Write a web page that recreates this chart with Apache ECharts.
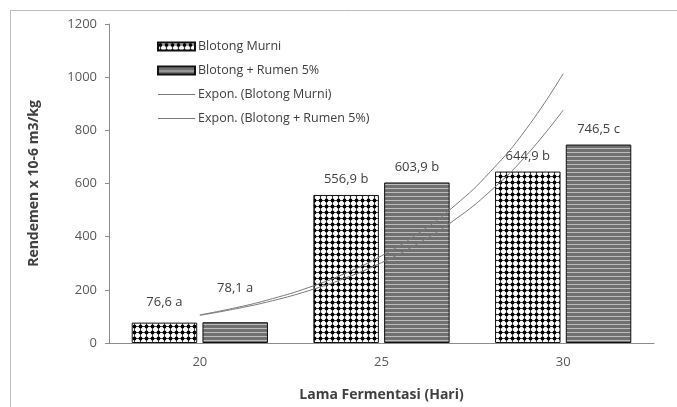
<!DOCTYPE html>
<html><head><meta charset="utf-8">
<script src="https://cdn.jsdelivr.net/npm/echarts@6/dist/echarts.min.js"></script>
<style>html,body{margin:0;padding:0;background:#fff}#c{width:677px;height:407px}</style>
</head><body><div id="c"></div>
<script>
// ---- data ----
const categories = ['20', '25', '30'];
const murni = [76.6, 556.9, 644.9];
const rumen = [78.1, 603.9, 746.5];
const murniLabels = ['76,6 a', '556,9 b', '644,9 b'];
const rumenLabels = ['78,1 a', '603,9 b', '746,5 c'];
const trendDays = [20, 21, 22, 23, 24, 25, 26, 27, 28, 29, 30];
const trendMurni = [104, 129, 159, 197, 244, 302, 374, 462, 572, 708, 876];
const trendRumen = [106, 133, 167, 209, 262, 328, 411, 515, 645, 808, 1013];
const yTicks = [0, 200, 400, 600, 800, 1000, 1200];

// ---- patterns ----
function dotPattern() {
  const c = document.createElement('canvas'); c.width = 6; c.height = 6;
  const g = c.getContext('2d');
  g.fillStyle = '#ffffff'; g.fillRect(0, 0, 6, 6);
  g.fillStyle = '#444444'; g.fillRect(0, 2, 6, 1); g.fillRect(2, 0, 1, 6);
  g.fillStyle = '#000000'; g.beginPath(); g.arc(2.5, 2.5, 1.9, 0, Math.PI * 2); g.fill();
  return c;
}
function stripePattern() {
  const c = document.createElement('canvas'); c.width = 4; c.height = 4;
  const g = c.getContext('2d');
  g.fillStyle = '#707070'; g.fillRect(0, 0, 4, 4);
  g.fillStyle = '#bdbdbd'; g.fillRect(0, 0, 4, 1);
  return c;
}
const dotFill = { image: dotPattern(), repeat: 'repeat' };
const stripeFill = { image: stripePattern(), repeat: 'repeat' };

const labelOffsets = { murni: [[0, -5], [0, 0], [0, 0]], rumen: [[0, -18], [0, 0], [0, 0]] };

function barData(vals, labels, offs) {
  return vals.map((v, i) => ({ value: v, label: { formatter: labels[i], offset: offs[i] } }));
}

const chart = echarts.init(document.getElementById('c'), null, { renderer: 'canvas' });
const font = '"Open Sans", "DejaVu Sans", sans-serif';
chart.setOption({
  animation: false,
  textStyle: { fontFamily: font },
  graphic: [{ type: 'rect', shape: { x: 10.5, y: 10.5, width: 800, height: 600 }, style: { fill: 'none', stroke: '#bdbdbd', lineWidth: 1 }, z: -1 }],
  grid: { left: 109, right: 23, top: 24, bottom: 63 },
  legend: {
    orient: 'vertical', left: 157, top: 40, padding: 0, itemGap: 11, itemWidth: 37, itemHeight: 8,
    textStyle: { color: '#404040', fontSize: 12.5, fontFamily: font, padding: [0, 0, 0, -2] },
    data: [
      { name: 'Blotong Murni', icon: 'rect' },
      { name: 'Blotong + Rumen 5%', icon: 'rect' },
      { name: 'Expon. (Blotong Murni)', icon: 'path://M0,0L36,0L36,1L0,1Z' },
      { name: 'Expon. (Blotong + Rumen 5%)', icon: 'path://M0,0L36,0L36,1L0,1Z' }
    ]
  },
  xAxis: [
    {
      type: 'category', data: categories,
      axisLine: { lineStyle: { color: '#8c8c8c' } }, axisTick: { show: false },
      axisLabel: { color: '#595959', fontSize: 13, margin: 13 },
      name: 'Lama Fermentasi (Hari)', nameLocation: 'middle', nameGap: 45,
      nameTextStyle: { fontSize: 14, fontWeight: 'bold', color: '#404040' }
    },
    { type: 'value', min: 17.5, max: 32.5, show: false, position: 'bottom' }
  ],
  yAxis: {
    type: 'value', min: yTicks[0], max: yTicks[yTicks.length - 1], interval: 200,
    axisLine: { show: true, lineStyle: { color: '#8c8c8c' } },
    axisTick: { show: true, length: 4, lineStyle: { color: '#8c8c8c' } },
    splitLine: { show: false },
    axisLabel: { color: '#595959', fontSize: 13, margin: 12, formatter: v => String(v) },
    name: 'Rendemen x 10-6 m3/kg', nameLocation: 'middle', nameGap: 68,
    nameTextStyle: { fontSize: 14, fontWeight: 'bold', color: '#404040' }
  },
  series: [
    {
      name: 'Blotong Murni', type: 'bar', barCategoryGap: '25%', barGap: '8%',
      itemStyle: { color: dotFill, borderColor: '#111', borderWidth: 1 },
      label: { show: true, position: 'top', distance: 9, color: '#404040', fontSize: 13 },
      data: barData(murni, murniLabels, labelOffsets.murni)
    },
    {
      name: 'Blotong + Rumen 5%', type: 'bar',
      itemStyle: { color: stripeFill, borderColor: '#111', borderWidth: 1 },
      label: { show: true, position: 'top', distance: 9, color: '#404040', fontSize: 13 },
      data: barData(rumen, rumenLabels, labelOffsets.rumen)
    },
    {
      name: 'Expon. (Blotong Murni)', type: 'line', xAxisIndex: 1, smooth: true, symbol: 'none', z: 5,
      lineStyle: { color: '#7a7a7a', width: 1 }, itemStyle: { color: '#7a7a7a' },
      data: trendDays.map((d, i) => [d, trendMurni[i]])
    },
    {
      name: 'Expon. (Blotong + Rumen 5%)', type: 'line', xAxisIndex: 1, smooth: true, symbol: 'none', z: 5,
      lineStyle: { color: '#7a7a7a', width: 1 }, itemStyle: { color: '#7a7a7a' },
      data: trendDays.map((d, i) => [d, trendRumen[i]])
    }
  ]
});
</script></body></html>
